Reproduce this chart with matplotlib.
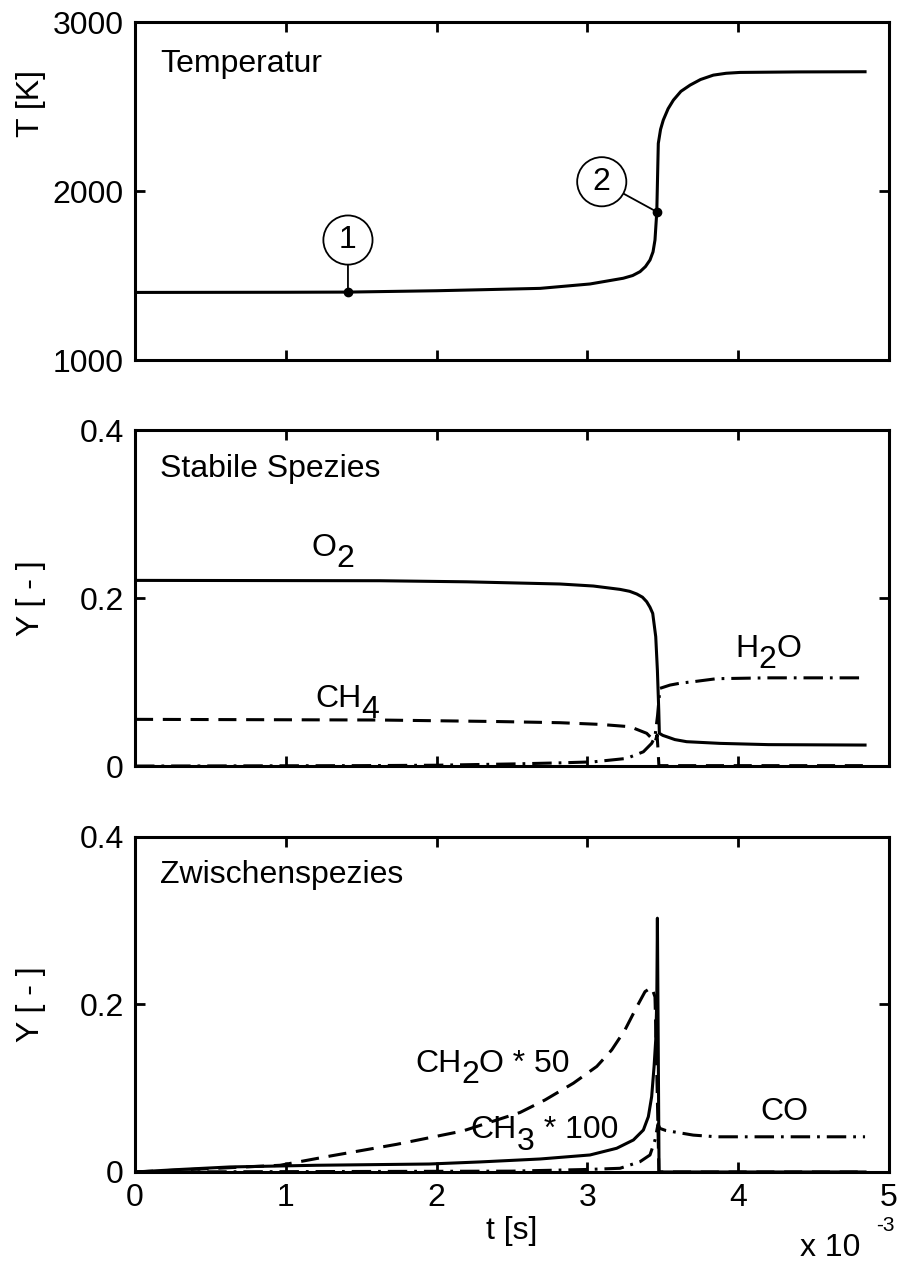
import matplotlib
matplotlib.use("Agg")
import matplotlib.pyplot as plt
import matplotlib.transforms as mtransforms

plt.rcParams["font.family"] = ["Liberation Sans", "DejaVu Sans"]
plt.rcParams["lines.scale_dashes"] = False

FS = 23
LW = 2.2
DASH = (0, (13, 7))
DASHDOT = (0, (14, 5, 2, 5))

# time axis in units of 1e-3 s
t_T = [0, 1.0, 1.412, 2.0, 2.3, 2.686, 3.017, 3.238, 3.30, 3.349, 3.385, 3.415,
       3.435, 3.448, 3.460, 3.470, 3.485, 3.503, 3.535, 3.570, 3.62, 3.681, 3.75,
       3.835, 3.92, 4.012, 4.4, 4.841]
temp = [1400, 1401, 1402, 1410, 1416, 1424, 1450, 1484, 1500, 1523, 1553, 1592,
        1640, 1710, 1877, 2282, 2365, 2420, 2487, 2538, 2590, 2627, 2660,
        2686, 2697, 2702, 2705, 2706]

t_O2 = [0, 1.625, 2.2, 2.818, 3.039, 3.216, 3.28, 3.327, 3.365, 3.393, 3.415,
        3.433, 3.453, 3.464, 3.473, 3.477, 3.50, 3.526, 3.58, 3.658, 3.879, 4.2,
        4.841]
y_O2 = [0.221, 0.2206, 0.2193, 0.2167, 0.2143, 0.2103, 0.208, 0.2048, 0.201,
        0.1956, 0.189, 0.1817, 0.154, 0.114, 0.0667, 0.039, 0.0365, 0.0349,
        0.0315, 0.029, 0.027, 0.0255, 0.025]

t_CH4 = [0, 1.625, 2.4, 2.818, 3.084, 3.283, 3.393, 3.437, 3.448, 3.462, 3.468,
         3.474, 4.841]
y_CH4 = [0.0556, 0.0548, 0.053, 0.0516, 0.0496, 0.0468, 0.039, 0.031, 0.028,
         0.037, 0.02, 0.0005, 0.0005]

t_H2O = [0, 1.5, 2.0, 2.5, 2.818, 3.039, 3.26, 3.371, 3.426, 3.448, 3.465, 3.481,
         3.548, 3.62, 3.702, 3.857, 4.2, 4.841]
y_H2O = [0, 0.0005, 0.001, 0.0025, 0.0038, 0.005, 0.0091, 0.017, 0.027, 0.035,
         0.06, 0.0925, 0.0964, 0.0988, 0.1004, 0.104, 0.105, 0.105]

t_CH3 = [0, 0.3, 0.63, 1.2, 1.95, 2.29, 2.686, 3.017, 3.194, 3.305, 3.371, 3.404,
         3.426, 3.442, 3.453, 3.460, 3.464, 3.475, 4.841]
y_CH3 = [0, 0.003, 0.006, 0.008, 0.0095, 0.012, 0.0155, 0.0203, 0.0283, 0.0382,
         0.0501, 0.066, 0.090, 0.126, 0.158, 0.205, 0.303, 0.0, 0.0]

t_CH2O = [0, 0.5, 0.962, 1.293, 1.735, 2.175, 2.553, 2.719, 2.907, 3.062, 3.161,
          3.249, 3.327, 3.382, 3.426, 3.448, 3.460, 3.474, 4.841]
y_CH2O = [0, 0.004, 0.008, 0.019, 0.033, 0.049, 0.071, 0.086, 0.106, 0.126,
          0.1457, 0.1696, 0.197, 0.2153, 0.2205, 0.209, 0.12, 0.0, 0.0]

t_CO = [0, 2.5, 3.0, 3.216, 3.349, 3.415, 3.448, 3.468, 3.481, 3.520, 3.570,
        3.702, 3.857, 4.2, 4.841]
y_CO = [0, 0.001, 0.003, 0.0044, 0.0123, 0.0203, 0.038, 0.057, 0.052, 0.0495,
        0.048, 0.044, 0.042, 0.042, 0.042]

fig = plt.figure(figsize=(8.99, 12.61), dpi=100)
ax1 = fig.add_axes([0.1502, 0.7145, 0.8387, 0.2680])
ax2 = fig.add_axes([0.1502, 0.3925, 0.8387, 0.2665])
ax3 = fig.add_axes([0.1502, 0.0706, 0.8387, 0.2657])


def style(ax):
    ax.set_xlim(0, 5)
    ax.set_xticks([0, 1, 2, 3, 4, 5])
    for s in ax.spines.values():
        s.set_linewidth(2.2)
    ax.tick_params(direction="in", length=7, width=2, top=True, right=True,
                   labelsize=FS, pad=8)


def chem(ax, x, y, parts):
    # formula text with full-size, lowered subscripts
    r = fig.canvas.get_renderer()
    dx = 0
    for s, low in parts:
        tr = mtransforms.offset_copy(ax.transData, fig=fig, x=dx,
                                     y=-8 if low else 0, units="points")
        t = ax.text(x, y, s, transform=tr, fontsize=FS, ha="left", va="baseline")
        dx += t.get_window_extent(r).width * 72 / fig.dpi


# temperature
style(ax1)
ax1.plot(t_T, temp, color="black", lw=LW)
ax1.set_ylim(1000, 3000)
ax1.set_yticks([1000, 2000, 3000])
ax1.set_xticklabels([])
ax1.set_ylabel("T [K]", fontsize=FS)
ax1.yaxis.set_label_coords(-0.118, 0.76)
ax1.text(0.033, 0.853, "Temperatur", transform=ax1.transAxes, fontsize=FS)
for num, pt, ctr in [("1", (1.412, 1402), (1.412, 1710)),
                     ("2", (3.460, 1877), (3.095, 2055))]:
    ax1.plot(*pt, "o", color="black", ms=6)
    ax1.annotate(num, xy=pt, xytext=ctr, fontsize=FS, ha="center", va="center",
                 bbox=dict(boxstyle="circle,pad=0.3", fc="white", ec="black", lw=1.3),
                 arrowprops=dict(arrowstyle="-", lw=1.3, color="black",
                                 shrinkA=0, shrinkB=0))

# stable species
style(ax2)
ax2.plot(t_H2O, y_H2O, color="black", lw=LW, linestyle=DASHDOT)
ax2.plot(t_CH4, y_CH4, color="black", lw=LW, linestyle=DASH)
ax2.plot(t_O2, y_O2, color="black", lw=LW)
ax2.set_ylim(0, 0.4)
ax2.set_yticks([0, 0.2, 0.4])
ax2.set_yticklabels(["0", "0.2", "0.4"])
ax2.set_xticklabels([])
ax2.set_ylabel("Y [ - ]", fontsize=FS)
ax2.yaxis.set_label_coords(-0.118, 0.5)
ax2.text(0.033, 0.861, "Stabile Spezies", transform=ax2.transAxes, fontsize=FS)
chem(ax2, 1.17, 0.2505, [("O", False), ("2", True)])
chem(ax2, 1.194, 0.0706, [("CH", False), ("4", True)])
chem(ax2, 3.979, 0.1298, [("H", False), ("2", True), ("O", False)])

# intermediate species
style(ax3)
ax3.plot(t_CO, y_CO, color="black", lw=LW, linestyle=DASHDOT)
ax3.plot(t_CH2O, y_CH2O, color="black", lw=LW, linestyle=DASH)
ax3.plot(t_CH3, y_CH3, color="black", lw=LW)
ax3.set_ylim(0, 0.4)
ax3.set_yticks([0, 0.2, 0.4])
ax3.set_yticklabels(["0", "0.2", "0.4"])
ax3.set_ylabel("Y [ - ]", fontsize=FS)
ax3.yaxis.set_label_coords(-0.118, 0.5)
ax3.set_xlabel("t [s]", fontsize=FS, labelpad=2)
ax3.text(0.033, 0.861, "Zwischenspezies", transform=ax3.transAxes, fontsize=FS)
chem(ax3, 1.857, 0.1198, [("CH", False), ("2", True), ("O * 50", False)])
chem(ax3, 2.226, 0.040, [("CH", False), ("3", True), (" * 100", False)])
chem(ax3, 4.145, 0.062, [("CO", False)])

fig.text(0.89, 0.004, "x 10", fontsize=FS, ha="left", va="baseline")
fig.text(0.975, 0.0235, "-3", fontsize=15, ha="left", va="baseline")

fig.savefig("out.png", dpi=100)
